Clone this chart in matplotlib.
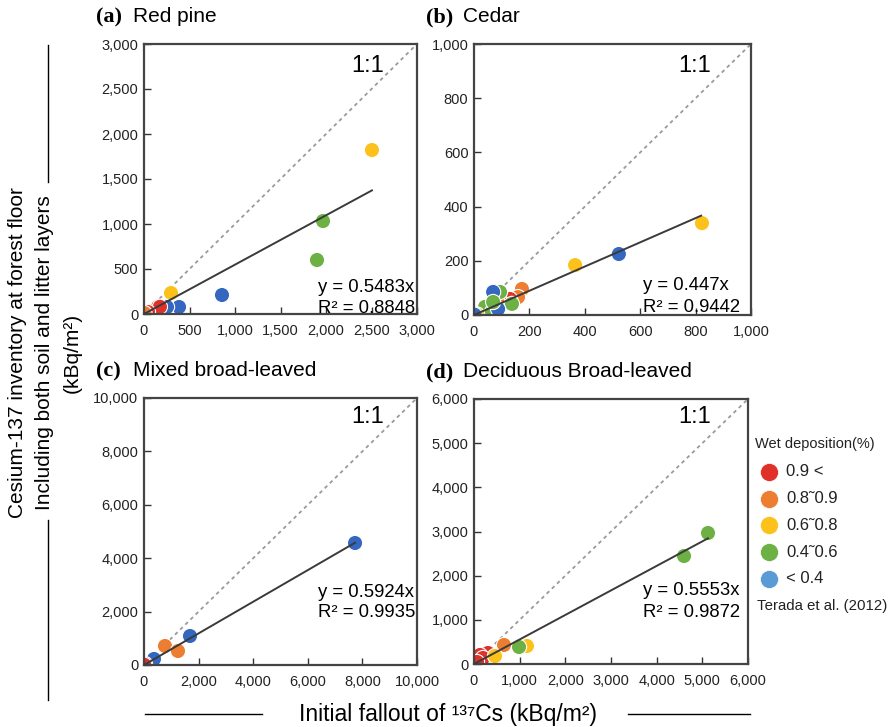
import numpy as np
import matplotlib
matplotlib.use("Agg")
import matplotlib.pyplot as plt
from matplotlib.lines import Line2D

plt.rcParams['font.family'] = ['Liberation Sans', 'DejaVu Sans']

W, H = 894, 727

# wet deposition classes
classes = ['0.9 <', '0.8˜0.9', '0.6˜0.8', '0.4˜0.6', '< 0.4']
legend_colors = ['#E0302A', '#ED7D31', '#FCC21B', '#6DB043', '#5B9BD5']
point_colors = ['#E0302A', '#ED7D31', '#FCC21B', '#6DB043', '#3566C0']

# (a) Red pine
a_x = [2505, 1967, 1901, 857, 297, 385, 253, 154, 175, 44, 5]
a_y = [1822, 1033, 600, 211, 233, 78, 78, 78, 80, 22, 10]
a_c = [2, 3, 3, 4, 2, 4, 4, 0, 0, 0, 1]

# (b) Cedar
b_x = [823, 523, 365, 173, 159, 130, 94, 83, 94, 69, 137, 40, 65, 87, 11, 2, 69]
b_y = [339, 225, 184, 96, 66, 59, 52, 55, 85, 85, 41, 30, 11, 22, 2, 1, 48]
b_c = [2, 4, 2, 1, 1, 0, 0, 1, 3, 4, 3, 3, 3, 4, 2, 4, 3]

# (c) Mixed broad-leaved
c_x = [7730, 1685, 769, 1245, 366, 37, 5]
c_y = [4569, 1086, 712, 524, 225, 37, 10]
c_c = [4, 4, 1, 1, 4, 0, 0]

# (d) Deciduous broad-leaved
d_x = [5124, 4599, 1160, 986, 657, 307, 131, 197, 460, 10, 66]
d_y = [2966, 2445, 408, 385, 430, 249, 204, 136, 181, 23, 45]
d_c = [3, 3, 2, 3, 1, 0, 0, 0, 2, 0, 0]

panels = [
    dict(tag='(a)', name='Red pine', x=a_x, y=a_y, c=a_c, lim=3000, step=500,
         slope=0.5483, r2='0.8848', xend=2505, box=(144, 44, 417, 314),
         one=(0.82, 0.896), eq=(0.637, 0.083, 0.005)),
    dict(tag='(b)', name='Cedar', x=b_x, y=b_y, c=b_c, lim=1000, step=200,
         slope=0.447, r2='0.9442', xend=820, box=(474, 44, 751, 315),
         one=(0.796, 0.897), eq=(0.61, 0.092, 0.012)),
    dict(tag='(c)', name='Mixed broad-leaved', x=c_x, y=c_y, c=c_c, lim=10000, step=2000,
         slope=0.5924, r2='0.9935', xend=7730, box=(144, 398, 417, 665),
         one=(0.82, 0.906), eq=(0.637, 0.256, 0.179)),
    dict(tag='(d)', name='Deciduous Broad-leaved', x=d_x, y=d_y, c=d_c, lim=6000, step=1000,
         slope=0.5553, r2='0.9872', xend=5124, box=(474, 399, 748, 664),
         one=(0.805, 0.909), eq=(0.617, 0.26, 0.178)),
]

fig = plt.figure(figsize=(W / 100, H / 100), dpi=100)

for p in panels:
    x0, y0, x1, y1 = p['box']
    ax = fig.add_axes([x0 / W, 1 - y1 / H, (x1 - x0) / W, (y1 - y0) / H])
    lim = p['lim']
    ax.plot([0, lim], [0, lim], ls=(0, (2, 2)), color='#9a9a9a', lw=1.3, zorder=1)
    ax.plot([0, p['xend']], [0, p['slope'] * p['xend']], color='#3a3a3a', lw=1.4, zorder=3)
    cols = [point_colors[i] for i in p['c']]
    ax.scatter(p['x'], p['y'], s=120, c=cols, edgecolors='white', linewidths=0.8, zorder=2)
    ax.set_xlim(0, lim)
    ax.set_ylim(0, lim)
    ticks = np.arange(0, lim + 1, p['step'])
    ax.set_xticks(ticks)
    ax.set_yticks(ticks)
    lab = ['{:,}'.format(int(t)) for t in ticks]
    ax.set_xticklabels(lab)
    ax.set_yticklabels(lab)
    ax.tick_params(direction='in', length=5, width=1, colors='#333333', labelsize=10.5,
                   labelcolor='#222222')
    ax.tick_params(axis='x', pad=7)
    ax.tick_params(axis='y', pad=4)
    for s in ax.spines.values():
        s.set_color('#444444')
        s.set_linewidth(1.6)
    ax.text(p['one'][0], p['one'][1], '1:1', transform=ax.transAxes, fontsize=17,
            ha='center', va='baseline')
    ex, ey1, ey2 = p['eq']
    ax.text(ex, ey1, 'y = {}x'.format(p['slope']), transform=ax.transAxes,
            fontsize=13.3, ha='left', va='baseline')
    ax.text(ex, ey2, 'R² = {}'.format(p['r2']), transform=ax.transAxes,
            fontsize=13.3, ha='left', va='baseline')
    ty = 1 - (y0 - 22) / H
    fig.text((x0 - 48) / W, ty, p['tag'], fontsize=16, fontweight='bold',
             family=['Liberation Serif', 'DejaVu Serif'], ha='left', va='baseline')
    fig.text((x0 - 11) / W, ty, p['name'], fontsize=15, ha='left', va='baseline')

# legend
fig.text(755 / W, 1 - 444 / H, 'Wet deposition(%)', fontsize=10.5, va='center', color='#222222')
for i, (lab, col) in enumerate(zip(classes, legend_colors)):
    yy = 1 - (472 + i * 26.7) / H
    fig.add_artist(Line2D([769 / W], [yy], marker='o', markersize=13, color=col,
                          markeredgecolor='white', markeredgewidth=0.5, lw=0))
    fig.text(786 / W, yy, lab, fontsize=12, va='center', color='#222222')
fig.text(757 / W, 1 - 606 / H, 'Terada et al. (2012)', fontsize=10.8, va='center', color='#222222')

# axis labels
fig.text(18 / W, 1 - 353 / H, 'Cesium-137 inventory at forest floor', rotation=90,
         fontsize=15, ha='center', va='center')
fig.text(45 / W, 1 - 353 / H, 'Including both soil and litter layers', rotation=90,
         fontsize=15, ha='center', va='center')
fig.text(72 / W, 1 - 353 / H, '(kBq/m²)', rotation=90,
         fontsize=15, ha='center', va='center')
fig.add_artist(Line2D([48 / W, 48 / W], [1 - 45 / H, 1 - 182 / H], color='black', lw=1))
fig.add_artist(Line2D([48 / W, 48 / W], [1 - 520 / H, 1 - 700 / H], color='black', lw=1))

fig.text(448 / W, 1 - 714 / H, 'Initial fallout of ¹³⁷Cs (kBq/m²)', fontsize=16.5,
         ha='center', va='center')
fig.add_artist(Line2D([145 / W, 262 / W], [1 - 714 / H, 1 - 714 / H], color='black', lw=1))
fig.add_artist(Line2D([628 / W, 750 / W], [1 - 714 / H, 1 - 714 / H], color='black', lw=1))

fig.savefig('out.png', dpi=100)
